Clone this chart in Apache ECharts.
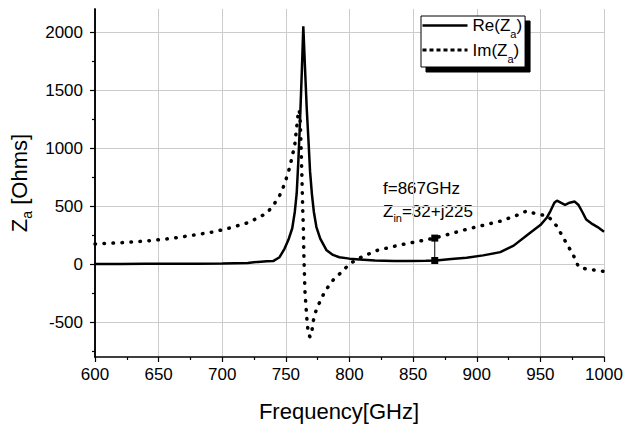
<!DOCTYPE html>
<html>
<head>
<meta charset="utf-8">
<script src="https://cdn.jsdelivr.net/npm/echarts@6/dist/echarts.min.js"></script>
<style>html,body{margin:0;padding:0;background:#fff}#c{width:632px;height:427px}</style>
</head>
<body>
<div id="c"></div>
<script>
// ---- data ----
var freqRe = [600,620,640,660,680,700,710,720,728,735,740,745,749,752,755,757,758.5,759.8,761,762.5,763.7,765,766.4,767.6,769,770.5,772,774,777,782,787,792,800,808,820,835,847,860,868,880,892,905,918.5,929,942,950,955,958,961,963,966,969.4,973,977,980,983,986,991,995,1000];
var reValues = [2,2,3,3,4,5,8,10,20,25,27,60,135,210,310,450,610,890,1200,1650,2050,1700,1340,1100,800,600,450,320,220,120,80,60,48,40,32,28,28,30,32,45,56,76,104,160,272,337,400,460,530,548,530,512,530,540,510,450,385,345,320,280];
var freqIm = [600,620,640,660,680,693,707,720,728,735,740,745,748,751,753,755,757,758.5,759.8,760.5,761.2,761.7,762.5,763.3,763.7,764.2,765,766.4,767.6,769,770,771.6,774,780.7,787.3,794,800.4,809.6,821.4,839.7,867,892,918.5,931,939.5,944.5,950,956,962.8,969.4,976,980,986,992,998,1000];
var imValues = [175,185,200,222,255,278,315,357,399,441,505,590,666,760,835,930,1031,1180,1313,1330,1250,1100,800,450,329,50,-233,-458,-599,-627,-610,-486,-388,-233,-135,-65,6,62,118,166,225,301,371,419,460,441,427,415,329,202,76,-23,-42,-50,-59,-62];
var markerFreq = 867, markerRe = 32, markerIm = 225;
var yMajor = [-500,0,500,1000,1500,2000];
var yMinor = [-750,-250,250,750,1250,1750];
var seriesNames = ['Re(Z_a)','Im(Z_a)'];

var FONT = 'Liberation Sans, Arial, sans-serif';
function zip(a,b){var r=[];for(var i=0;i<a.length;i++)r.push([a[i],b[i]]);return r;}
function plain(v){return String(v);}
var chart = echarts.init(document.getElementById('c'), null, {renderer:'svg'});
var option = {
  animation:false,
  backgroundColor:'#fff',
  grid:{left:95,right:28,top:9,bottom:64,containLabel:false},
  legend:{
    orient:'vertical', left:421, top:16,
    padding:[1,3,3,0], itemGap:2, itemWidth:45, itemHeight:14,
    backgroundColor:'#fff', borderColor:'#000', borderWidth:1,
    shadowColor:'#000', shadowBlur:0, shadowOffsetX:5, shadowOffsetY:5,
    itemStyle:{opacity:0},
    data:[
      {name:seriesNames[0], itemStyle:{opacity:0}, lineStyle:{width:2.5,type:'solid',color:'#000',opacity:1}},
      {name:seriesNames[1], itemStyle:{opacity:0}, lineStyle:{width:3,type:[4,3],cap:'butt',color:'#000',opacity:1}}
    ],
    formatter:function(n){var p=n.split('_');var base=p[0];var sub=p[1].replace(')','');return '{n|'+base+'}{s|'+sub+'}{n|)}';},
    textStyle:{fontFamily:FONT,color:'#000',rich:{
      n:{fontSize:17,lineHeight:28,fontFamily:FONT,color:'#000'},
      s:{fontSize:11,lineHeight:11,verticalAlign:'bottom',fontFamily:FONT,color:'#000'}
    }}
  },
  xAxis:{
    type:'value', min:600, max:1000, interval:50,
    axisLine:{onZero:false,lineStyle:{color:'#000',width:1.5}},
    axisTick:{show:true,inside:false,length:5,lineStyle:{color:'#000',width:1.2}},
    minorTick:{show:true,splitNumber:2,length:3,lineStyle:{color:'#000',width:1.2}},
    axisLabel:{margin:9,fontSize:17,color:'#000',fontFamily:FONT,formatter:plain},
    splitLine:{show:true,lineStyle:{color:'#cccccc',width:1}},
    name:'Frequency[GHz]', nameLocation:'middle', nameGap:43,
    nameTextStyle:{fontSize:22,color:'#000',fontFamily:FONT,padding:[0,21,0,0]}
  },
  yAxis:[{
    type:'value', min:-800, max:2200,
    axisLine:{show:true,lineStyle:{color:'#000',width:1.5}},
    axisTick:{show:true,inside:false,length:5,customValues:yMajor,lineStyle:{color:'#000',width:1.2}},
    axisLabel:{margin:12,fontSize:17,color:'#000',fontFamily:FONT,customValues:yMajor,formatter:plain},
    splitLine:{show:true,lineStyle:{color:'#cccccc',width:1}},
    name:'{n|Z}{s|a}{n| [Ohms]}', nameLocation:'middle', nameGap:59,
    nameTextStyle:{fontFamily:FONT,color:'#000',rich:{
      n:{fontSize:22,lineHeight:30,fontFamily:FONT,color:'#000'},
      s:{fontSize:14,lineHeight:14,verticalAlign:'bottom',fontFamily:FONT,color:'#000'}
    }}
  },{
    type:'value', min:-800, max:2200, position:'left', offset:0,
    axisLine:{show:true,lineStyle:{color:'#000',width:1.5}},
    axisTick:{show:true,inside:false,length:3,customValues:yMinor,lineStyle:{color:'#000',width:1.2}},
    axisLabel:{show:false}, splitLine:{show:false}
  }],
  graphic:[{
    type:'text', left:383, top:180,
    style:{
      text:'{n|f=867GHz}\n{n|Z}{s|in}{n|=32+j225}',
      fill:'#000', font:'17px '+FONT,
      rich:{
        n:{fontSize:17,lineHeight:23,fontFamily:FONT,fill:'#000',color:'#000'},
        s:{fontSize:11,lineHeight:11,verticalAlign:'bottom',fontFamily:FONT,fill:'#000',color:'#000'}
      }
    }
  }],
  series:[
    {name:seriesNames[0], type:'line', data:zip(freqRe,reValues), symbol:'none', smooth:false,
     lineStyle:{color:'#000',width:2.5}, itemStyle:{color:'#000'}, z:3},
    {name:seriesNames[1], type:'line', data:zip(freqIm,imValues), symbol:'none', smooth:false,
     lineStyle:{color:'#000',width:3.5,type:[0.5,8.5],cap:'round'}, itemStyle:{color:'#000'}, z:2},
    {name:'marker', type:'line', data:[[markerFreq,markerIm],[markerFreq,markerRe]], symbol:'rect', symbolSize:7,
     lineStyle:{color:'#000',width:1}, itemStyle:{color:'#000'}, z:4}
  ]
};
chart.setOption(option);
</script>
</body>
</html>
